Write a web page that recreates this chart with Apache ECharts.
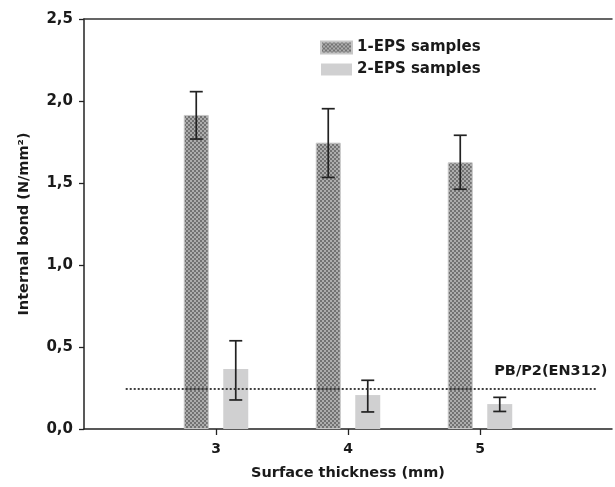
<!DOCTYPE html>
<html>
<head>
<meta charset="utf-8">
<script src="https://cdn.jsdelivr.net/npm/echarts@6/dist/echarts.min.js"></script>
<style>html,body{margin:0;padding:0;background:#fff}#c{width:615px;height:487px}</style>
</head>
<body>
<div id="c"></div>
<script>
// ---- data ----
const categories = ['3', '4', '5'];
const eps1 = [1.915, 1.746, 1.626];
const eps1Low = [1.768, 1.534, 1.462];
const eps1High = [2.057, 1.953, 1.791];
const eps2 = [0.366, 0.207, 0.152];
const eps2Low = [0.177, 0.104, 0.107];
const eps2High = [0.538, 0.297, 0.193];
const threshold = 0.244;
const thresholdSpan = [0.316, 3.89]; // in category-axis units
const thresholdLabel = 'PB/P2(EN312)';
const yTicks = [0, 0.5, 1.0, 1.5, 2.0, 2.5];

// ---- styles ----
const FONT = 'DejaVu Sans';
const TXT = '#1a1a1a';
const BAR_W = 25;
const BAR_GAP = 0.58;
const off = (BAR_W + BAR_W * BAR_GAP) / 2;

function makePattern() {
  const c = document.createElement('canvas');
  c.width = 4; c.height = 4;
  const g = c.getContext('2d');
  g.fillStyle = '#adadad'; g.fillRect(0, 0, 4, 4);
  g.fillStyle = '#727272';
  g.fillRect(0, 0, 2, 2); g.fillRect(2, 2, 2, 2);
  return c;
}
const pattern = { image: makePattern(), repeat: 'repeat' };

const axisData = [''].concat(categories, ['']);
const pad = v => [null].concat(v, [null]);
const showInner = i => i > 0 && i < axisData.length - 1;

function errData(lo, hi) {
  return categories.map((c, i) => [i + 1, lo[i], hi[i]]);
}
function errRender(offset) {
  return function (params, api) {
    const idx = api.value(0);
    const x = api.coord([idx, 0])[0] + offset;
    const yl = api.coord([idx, api.value(1)])[1];
    const yh = api.coord([idx, api.value(2)])[1];
    const st = { stroke: '#222', lineWidth: 1.7 };
    const cap = 6.5;
    return {
      type: 'group',
      children: [
        { type: 'line', shape: { x1: x, y1: yl, x2: x, y2: yh }, style: st },
        { type: 'line', shape: { x1: x - cap, y1: yl, x2: x + cap, y2: yl }, style: st },
        { type: 'line', shape: { x1: x - cap, y1: yh, x2: x + cap, y2: yh }, style: st }
      ]
    };
  };
}

const chart = echarts.init(document.getElementById('c'), null, { renderer: 'canvas' });
chart.setOption({
  animation: false,
  backgroundColor: '#fff',
  textStyle: { fontFamily: FONT },
  grid: { left: 84, right: 0, top: 19, bottom: 58, containLabel: false },
  legend: {
    data: ['1-EPS samples', '2-EPS samples'],
    orient: 'vertical',
    icon: 'rect',
    left: 315, top: 35,
    itemWidth: 31, itemHeight: 12, itemGap: 7,
    textStyle: { fontFamily: FONT, fontWeight: 'bold', fontSize: 15, color: TXT, lineHeight: 14 }
  },
  xAxis: [{
    type: 'category',
    data: axisData,
    boundaryGap: false,
    name: 'Surface thickness (mm)',
    nameLocation: 'middle',
    nameGap: 37,
    nameTextStyle: { fontFamily: FONT, fontWeight: 'bold', fontSize: 14.5, color: TXT },
    axisLine: { lineStyle: { color: '#222', width: 1.5 } },
    axisTick: { show: true, length: 6, interval: (i) => showInner(i), lineStyle: { color: '#222', width: 1.3 } },
    axisLabel: { interval: 0, margin: 13, fontFamily: FONT, fontWeight: 'bold', fontSize: 14, color: TXT },
    splitLine: { show: false }
  }, {
    type: 'category',
    data: axisData,
    boundaryGap: false,
    position: 'top',
    axisLine: { lineStyle: { color: '#333', width: 1.5 } },
    axisTick: { show: false },
    axisLabel: { show: false },
    splitLine: { show: false }
  }],
  yAxis: {
    type: 'value',
    min: 0, max: 2.5, interval: 0.5,
    name: 'Internal bond (N/mm²)',
    nameLocation: 'middle',
    nameRotate: 90,
    nameGap: 52,
    nameTextStyle: { fontFamily: FONT, fontWeight: 'bold', fontSize: 14.5, color: TXT },
    axisLine: { show: true, lineStyle: { color: '#222', width: 1.5 } },
    axisTick: { show: true, length: 5, lineStyle: { color: '#222', width: 1.3 } },
    axisLabel: {
      margin: 11, fontFamily: FONT, fontWeight: 'bold', fontSize: 15, color: TXT,
      formatter: v => {
        const t = yTicks.find(k => Math.abs(k - v) < 1e-9);
        return (t !== undefined ? t : v).toFixed(1).replace('.', ',');
      }
    },
    splitLine: { show: false }
  },
  series: [
    {
      name: '1-EPS samples', type: 'bar', data: pad(eps1),
      barWidth: BAR_W, barGap: (BAR_GAP * 100) + '%',
      itemStyle: { color: pattern, borderColor: '#c6c6c6', borderWidth: 1 }
    },
    {
      name: '2-EPS samples', type: 'bar', data: pad(eps2),
      barWidth: BAR_W,
      itemStyle: { color: '#d0d0d1' }
    },
    {
      name: 'err1', type: 'custom', data: errData(eps1Low, eps1High),
      encode: { x: 0, y: [1, 2] }, renderItem: errRender(-off), z: 5
    },
    {
      name: 'err2', type: 'custom', data: errData(eps2Low, eps2High),
      encode: { x: 0, y: [1, 2] }, renderItem: errRender(off), z: 5
    },
    {
      name: 'threshold', type: 'custom', data: [[thresholdSpan[0], thresholdSpan[1], threshold]],
      encode: { y: 2 }, z: 6,
      renderItem: function (params, api) {
        const a = api.value(0), b = api.value(1), t = api.value(2);
        const p0 = api.coord([0, t]), p1 = api.coord([1, t]);
        const step = p1[0] - p0[0];
        const x1 = p0[0] + a * step, x2 = p0[0] + b * step;
        return {
          type: 'group',
          children: [
            { type: 'line', shape: { x1: x1, y1: p0[1], x2: x2, y2: p0[1] },
              style: { stroke: '#2a2a2a', lineWidth: 1.8, lineDash: [2, 2] } },
            { type: 'text', x: x2 + 10, y: p0[1] - 10,
              style: { text: thresholdLabel, fill: TXT, font: 'bold 14.5px "' + FONT + '"', textAlign: 'right', textVerticalAlign: 'bottom' } }
          ]
        };
      }
    }
  ]
});
</script>
</body>
</html>
